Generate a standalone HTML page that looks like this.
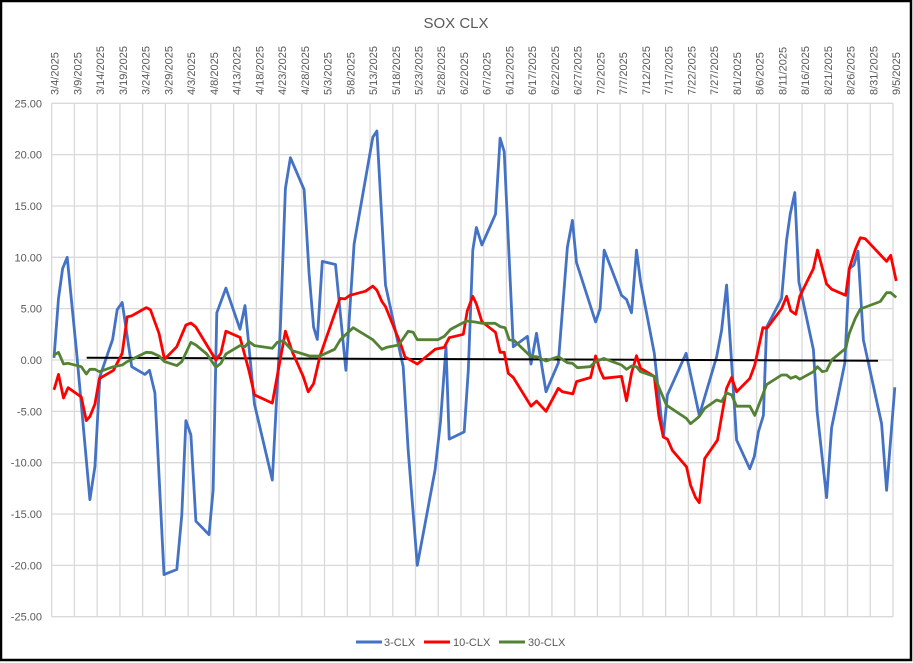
<!DOCTYPE html>
<html><head><meta charset="utf-8"><style>
html,body{margin:0;padding:0;background:#fff;}
#wrap{position:relative;width:913px;height:663px;overflow:hidden;}
svg{display:block;font-family:"Liberation Sans",sans-serif;}
</style></head><body>
<div id="wrap">
<svg id="chart" width="913" height="663" viewBox="0 0 913 663">
<rect x="1" y="1" width="910" height="659" fill="#fff" stroke="#000" stroke-width="2.5"/>
<text x="456" y="28" text-anchor="middle" font-size="15" fill="#595959">SOX CLX</text>
<g id="grid"></g>
<g id="ylabels"></g>
<g id="xlabels"></g>
<g id="series"></g>
<g>
<g><line x1="356" y1="642" x2="382" y2="642" stroke="#4472C4" stroke-width="3"/><text x="384" y="646" font-size="11" fill="#595959">3-CLX</text></g>
<g><line x1="424" y1="642" x2="450" y2="642" stroke="#FF0000" stroke-width="3"/><text x="453" y="646" font-size="11" fill="#595959">10-CLX</text></g>
<g><line x1="499" y1="642" x2="525" y2="642" stroke="#548235" stroke-width="3"/><text x="528" y="646" font-size="11" fill="#595959">30-CLX</text></g>
</g>
</svg>
</div>
<script>
const yTicks = [25,20,15,10,5,0,-5,-10,-15,-20,-25];
const blueDays = [0.5,1.5,2.4,3.4,5.5,8.4,9.5,10.6,13.4,14.4,15.5,17.6,20.5,21.5,22.7,24.7,27.5,28.6,29.5,30.6,31.7,34.6,35.5,36.3,38.3,41.4,42.5,44.6,48.5,50.3,51.4,52.5,55.5,56.6,57.6,58.4,59.5,62.4,64.7,66.5,70.6,71.5,73.4,77.3,78.4,80.4,84.3,85.5,86.7,87.4,90.7,91.6,92.6,93.4,94.6,97.6,98.6,99.5,101.5,104.6,105.4,106.6,108.7,111.4,113.4,114.5,115.4,119.6,120.6,121.5,125.3,126.4,127.5,128.6,129.5,132.5,134.5,135.4,139.5,142.4,146.2,147.3,148.4,150.6,153.5,154.5,155.4,156.5,157.2,160.5,161.6,162.4,163.4,164.3,167.5,168.3,170.4,171.5,174.4,175.4,176.4,177.3,178.5,182.5,183.6,185.4];
const blueVals = [0.2,6.0,8.9,10.0,0.65,-13.6,-10.4,-1.6,2.0,4.9,5.6,-0.65,-1.4,-1.0,-3.2,-20.9,-20.4,-15.1,-5.9,-7.3,-15.7,-17.0,-12.7,4.6,7.0,3.0,5.3,-4.3,-11.7,3.2,16.7,19.7,16.6,8.4,3.2,2.0,9.6,9.3,-1.0,11.3,21.7,22.3,7.3,-0.65,-8.8,-20.0,-10.7,-6.0,1.3,-7.7,-7.0,-1.0,10.7,12.9,11.2,14.2,21.6,20.3,1.3,2.3,-0.4,2.6,-3.1,-0.3,11.0,13.6,9.5,3.7,5.0,10.7,6.3,5.9,4.6,10.7,7.6,0.65,-7.5,-3.4,0.65,-5.4,0.3,2.9,7.3,-7.8,-10.6,-9.4,-7.0,-5.4,3.2,6.0,11.7,14.2,16.3,7.6,1.0,-5.0,-13.4,-6.6,-0.3,8.9,9.25,10.6,1.95,-6.2,-12.7,-2.66];
const redDays = [0.5,1.5,2.6,3.6,6.5,7.6,8.4,9.5,10.5,13.6,15.5,16.6,17.6,20.8,21.7,23.6,24.8,27.5,29.5,30.6,31.7,36.1,37.2,38.3,41.4,43.4,44.6,48.5,51.4,52.9,55.3,56.4,57.6,59,63.4,64.5,65.6,69,70.6,71.5,72.6,73.4,76.7,77.7,80.4,84.3,86.3,87.4,90.5,91.4,92.6,93.4,94.6,97.6,98.6,99.5,100.4,101.5,105.4,106.6,108.7,111.4,112.3,114.6,115.4,118.5,119.6,120.6,121.4,125.3,126.4,127.5,128.6,129.5,132.5,133.5,134.5,135.4,136.5,139.6,140.5,141.6,142.4,143.6,146.4,147.3,148.4,149.5,150.6,153.5,154.6,156.4,157.3,160.5,161.6,162.5,163.6,164.5,167.5,168.4,170.4,171.5,174.6,175.4,176.7,177.8,178.9,183.6,184.5,185.7];
const redVals = [-2.9,-1.4,-3.7,-2.7,-3.6,-5.9,-5.5,-4.3,-1.8,-1.0,0.65,4.2,4.3,5.1,4.9,2.6,0.07,1.3,3.4,3.6,3.2,0,0.65,2.8,2.2,-1.1,-3.4,-4.2,2.8,0.8,-1.6,-3.1,-2.3,0.4,6.0,5.95,6.3,6.7,7.2,6.8,5.7,5.2,1.6,0.3,-0.4,1.04,1.23,2.17,2.5,4.8,6.2,5.45,3.73,2.7,0.75,0.75,-1.3,-1.7,-4.5,-4.0,-5.0,-2.76,-3.1,-3.3,-2.1,-1.7,0.4,-1.0,-1.78,-1.6,-3.96,-1.3,0.42,-0.81,-1.6,-5.4,-7.5,-7.7,-8.8,-10.4,-12.2,-13.4,-13.9,-9.6,-7.8,-5.5,-2.76,-1.7,-3.1,-1.8,-0.49,3.15,3.1,5.0,6.2,4.8,4.45,6.2,8.9,10.7,7.4,6.9,6.3,8.9,10.75,11.9,11.8,9.6,10.2,7.7];
const greenDays = [0.5,1.5,2.6,3.6,6.5,7.6,8.4,9.5,10.5,13.6,15.5,16.6,20.8,22,23.6,24.8,27.5,28.6,30.6,31.7,34.1,36.1,37.2,38.3,41.4,42.5,43.4,44.6,48.5,49.6,50.9,52.9,55.3,56.7,59,62.2,63.5,66.3,70.6,72.6,73.6,76.3,78.4,79.5,80.4,84.9,86.3,87.7,91.2,93.1,94.6,97.5,98.6,99.7,100.6,101.7,105.4,106.6,108.7,111.4,113.4,114.5,115.6,118.4,119.6,121.4,125.3,126.4,127.5,128.6,129.5,132.5,135.2,139.6,140.5,142.4,143.6,146.2,147.3,148.4,149.5,150.6,153.5,154.6,157.2,160.5,161.6,162.5,163.6,164.5,167.5,168.4,169.5,170.4,171.5,174.6,175.4,176.7,177.8,182.2,183.6,184.5,185.7];
const greenVals = [0.49,0.75,-0.39,-0.32,-0.65,-1.36,-0.91,-0.91,-1.14,-0.65,-0.49,-0.16,0.75,0.71,0.39,-0.16,-0.55,-0.16,1.72,1.46,0.58,-0.71,-0.32,0.58,1.4,1.3,1.78,1.4,1.14,1.72,1.88,0.91,0.58,0.39,0.39,1.04,2.0,3.15,1.98,1.04,1.23,1.46,2.8,2.7,1.98,1.98,2.3,2.98,3.8,3.7,3.57,3.57,3.25,3.15,1.98,1.9,0.32,0.32,-0.1,0.32,-0.26,-0.32,-0.75,-0.65,-0.16,0.16,-0.49,-0.91,-0.58,-0.65,-1.14,-1.6,-4.4,-5.7,-6.2,-5.5,-4.7,-3.9,-4.05,-3.2,-3.4,-4.5,-4.5,-5.4,-2.4,-1.46,-1.46,-1.78,-1.6,-1.87,-1.14,-0.65,-1.14,-1.04,0,1.14,2.6,4.06,4.97,5.7,6.55,6.55,6.1];
const trendDays = [7.7,181.7];
const trendVals = [0.22,-0.07];

const NS = "http://www.w3.org/2000/svg";
const X0 = 51.7, X1 = 893, DAYS = 185;
const Y0 = 103.3, Y1 = 616.7, VMAX = 25, VMIN = -25;
function xs(d){ return X0 + d*(X1-X0)/DAYS; }
function ys(v){ return Y0 + (VMAX - v)*(Y1-Y0)/(VMAX-VMIN); }
function mk(tag, attrs, parent){ const e=document.createElementNS(NS,tag); for(const k in attrs) e.setAttribute(k,attrs[k]); parent.appendChild(e); return e; }

const grid=document.getElementById('grid'), yl=document.getElementById('ylabels'), xl=document.getElementById('xlabels'), ser=document.getElementById('series');
yTicks.forEach(t=>{
  const l=mk('line',{x1:X0,x2:X1,y1:ys(t),y2:ys(t),stroke:'#d9d9d9','stroke-width':1.3},grid);
  
  
  const tx=mk('text',{x:42,y:ys(t)+4,'text-anchor':'end','font-size':11,fill:'#595959'},yl);
  tx.textContent=t.toFixed(2);
  
  
});
const start=new Date(2025,2,4);
for(let d=0; d<=DAYS; d+=5){
  const x=xs(d);
  const l=mk('line',{x1:x,x2:x,y1:Y0,y2:Y1,stroke:'#d9d9d9','stroke-width':1.3},grid);
  
  
  const dt=new Date(start.getTime()+d*86400000);
  const tx=mk('text',{x:0,y:0,'text-anchor':'start','font-size':11,fill:'#595959',transform:`translate(${x+7},95) rotate(-90)`},xl);
  tx.textContent=(dt.getMonth()+1)+'/'+dt.getDate()+'/'+dt.getFullYear();
  
  
}
function line(days, vals, color, w, name){
  const pts=days.map((d,i)=>xs(d).toFixed(1)+','+ys(vals[i]).toFixed(1)).join(' ');
  const p=mk('polyline',{points:pts,fill:'none',stroke:color,'stroke-width':w,'stroke-linejoin':'round'},ser);
  
  
}
line(blueDays,blueVals,'#4472C4',2.8,'series-3-clx');
line(trendDays,trendVals,'#000000',2,'trend-line');
line(redDays,redVals,'#FF0000',2.8,'series-10-clx');
line(greenDays,greenVals,'#548235',2.8,'series-30-clx');
</script>
</body></html>
